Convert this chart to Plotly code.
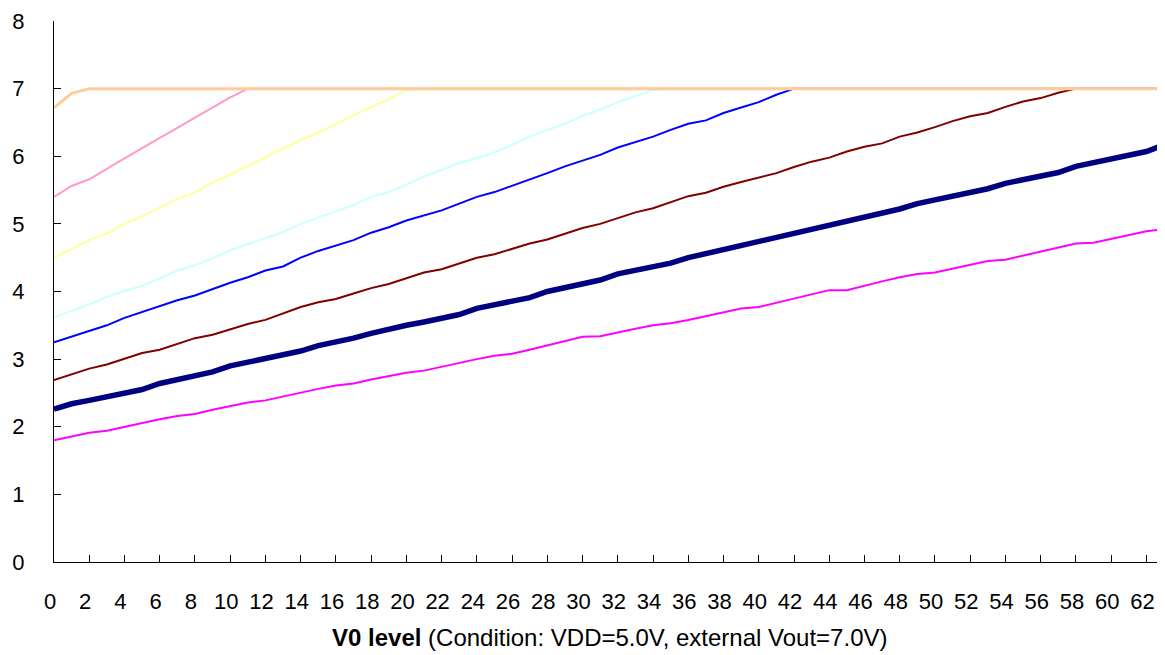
import plotly.graph_objects as go

# V0 level (x categories)
LEVELS = list(range(64))

# output voltage per curve (bottom curve first)
MAGENTA = [
    1.80, 1.86, 1.91, 1.94, 2.00, 2.05, 2.11, 2.16, 2.19, 2.25,
    2.31, 2.36, 2.39, 2.45, 2.50, 2.56, 2.61, 2.64, 2.70, 2.75,
    2.80, 2.83, 2.89, 2.94, 3.00, 3.05, 3.08, 3.14, 3.20, 3.26,
    3.33, 3.34, 3.40, 3.45, 3.50, 3.53, 3.58, 3.64, 3.70, 3.75,
    3.77, 3.83, 3.89, 3.95, 4.02, 4.02, 4.09, 4.15, 4.21, 4.26,
    4.28, 4.34, 4.40, 4.45, 4.47, 4.53, 4.59, 4.65, 4.71, 4.72,
    4.78, 4.84, 4.89, 4.92,
]
NAVY = [
    2.26, 2.34, 2.39, 2.45, 2.50, 2.55, 2.64, 2.69, 2.75, 2.81,
    2.90, 2.95, 3.01, 3.07, 3.12, 3.20, 3.25, 3.31, 3.38, 3.45,
    3.50, 3.55, 3.60, 3.66, 3.75, 3.80, 3.85, 3.91, 4.00, 4.05,
    4.11, 4.17, 4.26, 4.31, 4.36, 4.42, 4.50, 4.56, 4.61, 4.67,
    4.73, 4.81, 4.86, 4.91, 4.97, 5.05, 5.10, 5.16, 5.22, 5.30,
    5.35, 5.40, 5.46, 5.52, 5.60, 5.65, 5.70, 5.76, 5.85, 5.90,
    5.95, 6.01, 6.07, 6.17,
]
DARK_RED = [
    2.69, 2.78, 2.86, 2.92, 3.01, 3.09, 3.14, 3.22, 3.31, 3.36,
    3.44, 3.52, 3.58, 3.67, 3.77, 3.84, 3.89, 3.97, 4.05, 4.11,
    4.20, 4.28, 4.33, 4.41, 4.50, 4.55, 4.63, 4.71, 4.77, 4.85,
    4.94, 5.00, 5.09, 5.17, 5.23, 5.32, 5.41, 5.46, 5.55, 5.62,
    5.69, 5.75, 5.84, 5.92, 5.98, 6.07, 6.14, 6.19, 6.29, 6.35,
    6.43, 6.52, 6.59, 6.64, 6.73, 6.81, 6.86, 6.94, 7.00, 7.00,
    7.00, 7.00, 7.00, 7.00,
]
BLUE = [
    3.25, 3.33, 3.42, 3.50, 3.61, 3.70, 3.78, 3.87, 3.94, 4.04,
    4.13, 4.21, 4.31, 4.37, 4.50, 4.60, 4.68, 4.76, 4.87, 4.95,
    5.05, 5.13, 5.20, 5.30, 5.40, 5.47, 5.56, 5.66, 5.75, 5.85,
    5.93, 6.02, 6.13, 6.21, 6.29, 6.39, 6.48, 6.53, 6.64, 6.72,
    6.80, 6.91, 7.00, 7.00, 7.00, 7.00, 7.00, 7.00, 7.00, 7.00,
    7.00, 7.00, 7.00, 7.00, 7.00, 7.00, 7.00, 7.00, 7.00, 7.00,
    7.00, 7.00, 7.00, 7.00,
]
CYAN = [
    3.62, 3.71, 3.81, 3.92, 4.01, 4.08, 4.19, 4.31, 4.39, 4.49,
    4.61, 4.70, 4.78, 4.88, 5.00, 5.09, 5.19, 5.28, 5.40, 5.47,
    5.58, 5.70, 5.80, 5.90, 5.97, 6.06, 6.17, 6.29, 6.39, 6.48,
    6.60, 6.69, 6.80, 6.89, 6.98, 7.00, 7.00, 7.00, 7.00, 7.00,
    7.00, 7.00, 7.00, 7.00, 7.00, 7.00, 7.00, 7.00, 7.00, 7.00,
    7.00, 7.00, 7.00, 7.00, 7.00, 7.00, 7.00, 7.00, 7.00, 7.00,
    7.00, 7.00, 7.00, 7.00,
]
YELLOW = [
    4.50, 4.63, 4.76, 4.86, 5.00, 5.11, 5.24, 5.37, 5.47, 5.61,
    5.73, 5.86, 5.99, 6.12, 6.24, 6.35, 6.48, 6.60, 6.73, 6.84,
    6.98, 7.00, 7.00, 7.00, 7.00, 7.00, 7.00, 7.00, 7.00, 7.00,
    7.00, 7.00, 7.00, 7.00, 7.00, 7.00, 7.00, 7.00, 7.00, 7.00,
    7.00, 7.00, 7.00, 7.00, 7.00, 7.00, 7.00, 7.00, 7.00, 7.00,
    7.00, 7.00, 7.00, 7.00, 7.00, 7.00, 7.00, 7.00, 7.00, 7.00,
    7.00, 7.00, 7.00, 7.00,
]
PINK = [
    5.40, 5.56, 5.66, 5.82, 5.97, 6.12, 6.27, 6.42, 6.57, 6.72,
    6.87, 7.00, 7.00, 7.00, 7.00, 7.00, 7.00, 7.00, 7.00, 7.00,
    7.00, 7.00, 7.00, 7.00, 7.00, 7.00, 7.00, 7.00, 7.00, 7.00,
    7.00, 7.00, 7.00, 7.00, 7.00, 7.00, 7.00, 7.00, 7.00, 7.00,
    7.00, 7.00, 7.00, 7.00, 7.00, 7.00, 7.00, 7.00, 7.00, 7.00,
    7.00, 7.00, 7.00, 7.00, 7.00, 7.00, 7.00, 7.00, 7.00, 7.00,
    7.00, 7.00, 7.00, 7.00,
]
PEACH = [
    6.72, 6.93, 7.00, 7.00, 7.00, 7.00, 7.00, 7.00, 7.00, 7.00,
    7.00, 7.00, 7.00, 7.00, 7.00, 7.00, 7.00, 7.00, 7.00, 7.00,
    7.00, 7.00, 7.00, 7.00, 7.00, 7.00, 7.00, 7.00, 7.00, 7.00,
    7.00, 7.00, 7.00, 7.00, 7.00, 7.00, 7.00, 7.00, 7.00, 7.00,
    7.00, 7.00, 7.00, 7.00, 7.00, 7.00, 7.00, 7.00, 7.00, 7.00,
    7.00, 7.00, 7.00, 7.00, 7.00, 7.00, 7.00, 7.00, 7.00, 7.00,
    7.00, 7.00, 7.00, 7.00,
]

X_TICKS = list(range(0, 63, 2))
X_TITLE = "<b>V0 level</b> (Condition: VDD=5.0V, external Vout=7.0V)"

FONT = "Arial, 'Liberation Sans', sans-serif"

curves = [
    (MAGENTA, "#ff00ff", 2),
    (NAVY, "#000080", 5.5),
    (DARK_RED, "#800000", 2),
    (BLUE, "#0000ff", 2),
    (CYAN, "#ccffff", 2),
    (YELLOW, "#ffff99", 2),
    (PINK, "#ff99cc", 2),
    (PEACH, "#ffcc99", 3),
]

fig = go.Figure()
for values, color, width in curves:
    fig.add_trace(
        go.Scatter(
            x=LEVELS,
            y=values,
            mode="lines",
            line={"color": color, "width": width},
            showlegend=False,
        )
    )

# page body adds an 8px offset, so the figure is sized to fit inside the window
fig.update_layout(
    width=1157,
    height=647,
    margin={"l": 46, "r": 1, "t": 13, "b": 93},
    paper_bgcolor="white",
    plot_bgcolor="white",
    font={"family": FONT, "size": 22, "color": "black"},
    showlegend=False,
)
fig.update_xaxes(
    range=[0, 63],
    tickmode="array",
    tickvals=X_TICKS,
    ticks="inside",
    ticklen=7,
    tickcolor="black",
    showline=True,
    linecolor="black",
    linewidth=1,
    showgrid=False,
    zeroline=False,
    automargin=False,
    tickfont={"size": 22},
    ticklabelstandoff=20,
    ticklabelshift=-4,
)
fig.update_yaxes(
    range=[0, 8],
    dtick=1,
    ticks="inside",
    ticklen=7,
    tickcolor="black",
    showline=True,
    linecolor="black",
    linewidth=1,
    showgrid=False,
    zeroline=False,
    automargin=False,
    tickfont={"size": 22},
    ticklabelstandoff=24,
)

# axis caption, placed below the tick labels
fig.add_annotation(
    text=X_TITLE,
    xref="paper",
    yref="paper",
    x=0.5,
    y=-0.139,
    xanchor="center",
    yanchor="middle",
    showarrow=False,
    font={"size": 24, "color": "black"},
)

fig.write_html("out.html")
